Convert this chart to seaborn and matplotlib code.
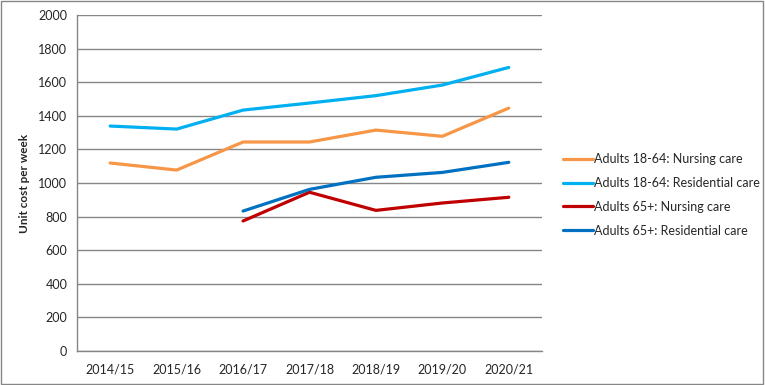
import numpy as np
import pandas as pd
import seaborn as sns
import matplotlib.pyplot as plt
from matplotlib.patches import Rectangle

years = ['2014/15', '2015/16', '2016/17', '2017/18', '2018/19', '2019/20', '2020/21']
nursing_18_64 = [1119, 1077, 1244, 1244, 1315, 1278, 1446]
residential_18_64 = [1339, 1321, 1434, 1476, 1520, 1583, 1688]
nursing_65 = [np.nan, np.nan, 774, 945, 837, 881, 915]
residential_65 = [np.nan, np.nan, 833, 962, 1034, 1063, 1123]

series = {
    'Adults 18-64: Nursing care': nursing_18_64,
    'Adults 18-64: Residential care': residential_18_64,
    'Adults 65+: Nursing care': nursing_65,
    'Adults 65+: Residential care': residential_65,
}
colours = ['#F79646', '#00B0F0', '#C00000', '#0070C0']

rows = []
for name, vals in series.items():
    for i, v in enumerate(vals):
        rows.append({'pos': i, 'cost': v, 'group': name})
df = pd.DataFrame(rows).dropna()

sns.set_style('white')
plt.rcParams['font.family'] = ['Lato', 'DejaVu Sans']

fig = plt.figure(figsize=(7.65, 3.85), dpi=100)
ax = fig.add_axes([77 / 765, 1 - 351 / 385, (542 - 77) / 765, (351 - 15) / 385])

sns.lineplot(
    data=df, x='pos', y='cost', hue='group',
    hue_order=list(series.keys()),
    palette=dict(zip(series.keys(), colours)),
    linewidth=2.3, ax=ax, legend=True
)

ax.set_xlim(-0.5, len(years) - 0.5)
ax.set_ylim(0, 2000)
ax.set_yticks(range(0, 2001, 200))
ax.set_xticks(range(len(years)))
ax.set_xticklabels(years)
ax.set_xticks(np.arange(-0.5, len(years), 1), minor=True)
ax.tick_params(axis='x', which='major', length=0, pad=9, labelsize=9)
ax.tick_params(axis='x', which='minor', length=4, color='#868686', width=1, direction='out')
ax.tick_params(axis='y', length=4, color='#868686', width=1, direction='out', labelsize=9, pad=3)
ax.grid(axis='y', color='#868686', linewidth=1)
ax.set_axisbelow(True)
ax.set_xlabel('')
ax.set_ylabel('Unit cost per week', fontsize=8.5, fontweight='bold', labelpad=6)
for side in ['top', 'right']:
    ax.spines[side].set_visible(False)
for side in ['left', 'bottom']:
    ax.spines[side].set_color('#868686')
    ax.spines[side].set_linewidth(1)

handles, labels = ax.get_legend_handles_labels()
ax.legend(
    handles, labels, loc='upper left',
    bbox_to_anchor=(558 / 765, 1 - 148 / 385), bbox_transform=fig.transFigure,
    frameon=False, fontsize=9, handlelength=2.4, handletextpad=0.1,
    labelspacing=0.95, borderaxespad=0
)

fig.patches.append(Rectangle((0.001, 0.002), 0.997, 0.995, transform=fig.transFigure,
                             fill=False, edgecolor='#868686', linewidth=1))

fig.savefig('out.png', dpi=100)
